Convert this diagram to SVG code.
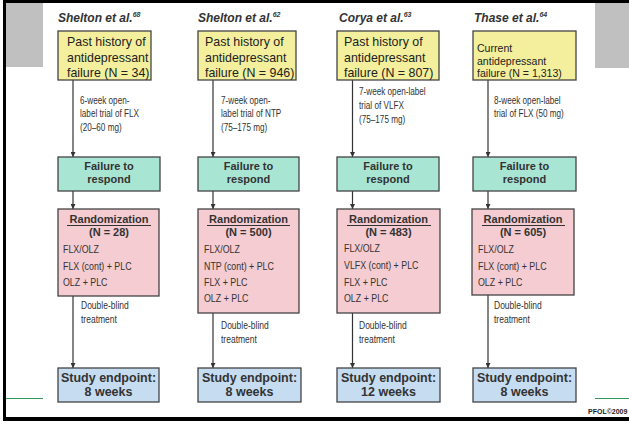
<svg xmlns="http://www.w3.org/2000/svg" width="629" height="421" viewBox="0 0 629 421">
<style>
text{font-family:"Liberation Sans",Arial,sans-serif;fill:#333}
.ti{font-size:12px;font-weight:bold;font-style:italic}
.sup{font-size:7px}
.yt{font-size:13.5px;fill:#222;transform-box:fill-box;transform-origin:0 50%;transform:scaleX(.92)}
.yt4{font-size:11.5px;fill:#222;transform-box:fill-box;transform-origin:0 50%;transform:scaleX(.92)}
.lb{font-size:11.5px;transform-box:fill-box;transform-origin:0 50%;transform:scaleX(.71)}
.db{font-size:11.5px;transform-box:fill-box;transform-origin:0 50%;transform:scaleX(.74)}
.bt{font-size:11px;font-weight:bold;text-anchor:middle}
.et{font-size:12.5px;font-weight:bold;text-anchor:middle}
.rt{font-size:11px;font-weight:bold;text-anchor:middle}
.it{font-size:11.5px;transform-box:fill-box;transform-origin:0 50%;transform:scaleX(.77)}
.y{fill:#f3ef9c;stroke:#444;stroke-width:1.3}
.g{fill:#a9e5d3;stroke:#444;stroke-width:1.3}
.p{fill:#f4ccd1;stroke:#444;stroke-width:1.3}
.b{fill:#c6dcf1;stroke:#444;stroke-width:1.3}
.c{stroke:#333;stroke-width:1.2;fill:none;marker-end:url(#ah)}
.u{stroke:#333;stroke-width:1}
</style>
<defs>
<marker id="ah" viewBox="0 0 6 6" refX="6" refY="3" markerWidth="5" markerHeight="5" markerUnits="userSpaceOnUse" orient="auto">
<path d="M0,0 L6,3 L0,6 z" fill="#333"/>
</marker>
</defs>
<g id="frame">
<rect x="0" y="0" width="629" height="421" fill="#fff"/>
<rect x="6" y="3" width="37" height="64" fill="#c0c0c0"/>
<rect x="595" y="3" width="34" height="65" fill="#c0c0c0"/>
<rect x="3" y="0" width="626" height="3" fill="#000"/>
<rect x="3" y="0" width="3" height="421" fill="#000"/>
<rect x="3" y="417" width="626" height="4" fill="#000"/>
<line x1="6" y1="398.5" x2="43" y2="398.5" stroke="#2e9a5c" stroke-width="1"/>
<line x1="595" y1="398.5" x2="629" y2="398.5" stroke="#2e9a5c" stroke-width="1"/>
<text x="588" y="414" style="font-size:7px;font-weight:bold;fill:#222">PFOL©2009</text>
</g>
<g id="connectors">
<path class="c" d="M73,80 V157"/>
<path class="c" d="M73,191 V209"/>
<path class="c" d="M73,296 V368"/>
<path class="c" d="M213,80 V157"/>
<path class="c" d="M213,191 V209"/>
<path class="c" d="M213,313 V368"/>
<path class="c" d="M352.5,80 V157"/>
<path class="c" d="M352.5,191 V209"/>
<path class="c" d="M352.5,313 V368"/>
<path class="c" d="M488,80 V157"/>
<path class="c" d="M488,191 V209"/>
<path class="c" d="M488,295 V368"/>
<text class="lb" x="80" y="104">6-week open-</text>
<text class="lb" x="80" y="117.5">label trial of FLX</text>
<text class="lb" x="80" y="131">(20–60 mg)</text>
<text class="lb" x="221" y="104">7-week open-</text>
<text class="lb" x="221" y="117.5">label trial of NTP</text>
<text class="lb" x="221" y="131">(75–175 mg)</text>
<text class="lb" x="359" y="95">7-week open-label</text>
<text class="lb" x="359" y="109">trial of VLFX</text>
<text class="lb" x="359" y="123">(75–175 mg)</text>
<text class="lb" x="494" y="104">8-week open-label</text>
<text class="lb" x="494" y="117.5">trial of FLX (50 mg)</text>
<text class="db" x="81" y="309">Double-blind</text>
<text class="db" x="81" y="323">treatment</text>
<text class="db" x="221" y="329">Double-blind</text>
<text class="db" x="221" y="343">treatment</text>
<text class="db" x="359" y="329">Double-blind</text>
<text class="db" x="359" y="343">treatment</text>
<text class="db" x="494" y="309">Double-blind</text>
<text class="db" x="494" y="323">treatment</text>
</g>
<g id="title1"><text class="ti" x="58" y="22">Shelton et al.<tspan class="sup" dy="-5">68</tspan></text></g>
<g id="title2"><text class="ti" x="198" y="22">Shelton et al.<tspan class="sup" dy="-5">62</tspan></text></g>
<g id="title3"><text class="ti" x="339" y="22">Corya et al.<tspan class="sup" dy="-5">63</tspan></text></g>
<g id="title4"><text class="ti" x="474" y="22">Thase et al.<tspan class="sup" dy="-5">64</tspan></text></g>
<g id="hist1"><rect class="y" x="58" y="31" width="93" height="49"/>
<text class="yt" x="67" y="46.5">Past history of</text><text class="yt" x="67" y="62">antidepressant</text><text class="yt" x="67" y="77">failure (N = 34)</text></g>
<g id="hist2"><rect class="y" x="198" y="31" width="98" height="49"/>
<text class="yt" x="205" y="46.5">Past history of</text><text class="yt" x="205" y="62">antidepressant</text><text class="yt" x="205" y="77">failure (N = 946)</text></g>
<g id="hist3"><rect class="y" x="337" y="31" width="102" height="49"/>
<text class="yt" x="344" y="46.5">Past history of</text><text class="yt" x="344" y="62">antidepressant</text><text class="yt" x="344" y="77">failure (N = 807)</text></g>
<g id="hist4"><rect class="y" x="473" y="31" width="103" height="49"/>
<text class="yt4" x="477" y="52">Current</text><text class="yt4" x="477" y="65">antidepressant</text><text class="yt4" x="477" y="77.5">failure (N = 1,313)</text></g>
<g id="fail1"><rect class="g" x="58" y="157" width="102" height="34"/><text class="bt" x="109" y="170">Failure to</text><text class="bt" x="109" y="183">respond</text></g>
<g id="fail2"><rect class="g" x="198" y="157" width="101" height="34"/><text class="bt" x="248.5" y="170">Failure to</text><text class="bt" x="248.5" y="183">respond</text></g>
<g id="fail3"><rect class="g" x="337" y="157" width="102" height="34"/><text class="bt" x="388" y="170">Failure to</text><text class="bt" x="388" y="183">respond</text></g>
<g id="fail4"><rect class="g" x="473" y="157" width="103" height="34"/><text class="bt" x="524.5" y="170">Failure to</text><text class="bt" x="524.5" y="183">respond</text></g>
<g id="rand1"><rect class="p" x="58" y="209" width="101" height="87"/>
<text class="rt" x="109" y="223">Randomization</text><line class="u" x1="67" y1="225.5" x2="151" y2="225.5"/><text class="rt" x="109" y="236">(N = 28)</text>
<text class="it" x="63" y="253">FLX/OLZ</text><text class="it" x="63" y="270">FLX (cont) + PLC</text><text class="it" x="63" y="286">OLZ + PLC</text></g>
<g id="rand2"><rect class="p" x="198" y="209" width="101" height="104"/>
<text class="rt" x="248.5" y="223">Randomization</text><line class="u" x1="207" y1="225.5" x2="290" y2="225.5"/><text class="rt" x="248.5" y="236">(N = 500)</text>
<text class="it" x="204" y="253">FLX/OLZ</text><text class="it" x="204" y="270">NTP (cont) + PLC</text><text class="it" x="204" y="286">FLX + PLC</text><text class="it" x="204" y="302">OLZ + PLC</text></g>
<g id="rand3"><rect class="p" x="337" y="209" width="103" height="104"/>
<text class="rt" x="388.5" y="223">Randomization</text><line class="u" x1="347" y1="225.5" x2="431" y2="225.5"/><text class="rt" x="388.5" y="236">(N = 483)</text>
<text class="it" x="344" y="252">FLX/OLZ</text><text class="it" x="344" y="269">VLFX (cont) + PLC</text><text class="it" x="344" y="286">FLX + PLC</text><text class="it" x="344" y="302">OLZ + PLC</text></g>
<g id="rand4"><rect class="p" x="472" y="209" width="102" height="86"/>
<text class="rt" x="523" y="223">Randomization</text><line class="u" x1="482" y1="225.5" x2="565" y2="225.5"/><text class="rt" x="523" y="236">(N = 605)</text>
<text class="it" x="478" y="253">FLX/OLZ</text><text class="it" x="478" y="270">FLX (cont) + PLC</text><text class="it" x="478" y="286">OLZ + PLC</text></g>
<g id="end1"><rect class="b" x="58" y="368" width="101" height="34"/><text class="et" x="108.5" y="382">Study endpoint:</text><text class="et" x="108.5" y="396">8 weeks</text></g>
<g id="end2"><rect class="b" x="198" y="368" width="103" height="34"/><text class="et" x="249.5" y="382">Study endpoint:</text><text class="et" x="249.5" y="396">8 weeks</text></g>
<g id="end3"><rect class="b" x="337" y="368" width="103" height="34"/><text class="et" x="388.5" y="382">Study endpoint:</text><text class="et" x="388.5" y="396">12 weeks</text></g>
<g id="end4"><rect class="b" x="473" y="368" width="103" height="34"/><text class="et" x="524.5" y="382">Study endpoint:</text><text class="et" x="524.5" y="396">8 weeks</text></g>
</svg>
